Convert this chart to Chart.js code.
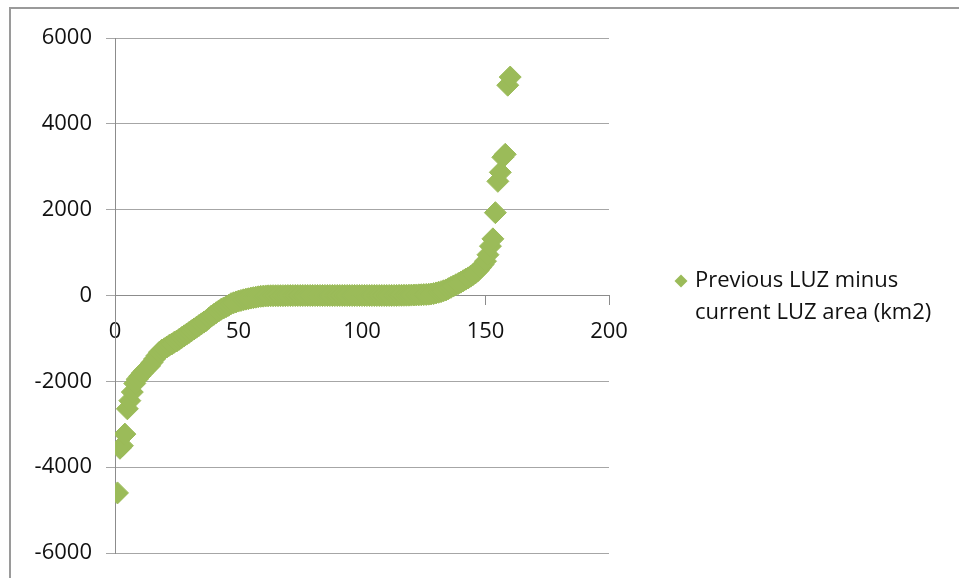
<!DOCTYPE html>
<html>
<head>
<meta charset="utf-8">
<script src="https://cdn.jsdelivr.net/npm/chart.js@4/dist/chart.umd.min.js"></script>
<style>
  html, body { margin: 0; padding: 0; background: #ffffff; }
  #wrap { width: 959px; height: 578px; position: relative; }
</style>
</head>
<body>
<div id="wrap"><canvas id="c" width="959" height="578"></canvas></div>
<script>
// Series name shown in the legend
const seriesLabel = 'Previous LUZ minus current LUZ area (km2)';

// Change in LUZ area (km2), sorted ascending; the x value of each point is its rank (1, 2, 3 ...)
const areaDiff = [
  -4600, -3560, -3500, -3230, -2640, -2450, -2250, -2050, -1950, -1880,
  -1810, -1750, -1690, -1640, -1560, -1480, -1400, -1320, -1270, -1240,
  -1200, -1160, -1130, -1090, -1060, -1020,  -980,  -940,  -900,  -860,
   -820,  -780,  -740,  -700,  -660,  -620,  -580,  -530,  -480,  -440,
   -400,  -360,  -320,  -290,  -260,  -230,  -190,  -170,  -150,  -130,
   -115,  -100,   -85,   -75,   -60,   -50,   -40,   -30,   -20,   -15,
    -10,    -8,    -6,    -5,    -5,    -4,    -4,    -3,    -3,    -2,
     -2,    -2,    -1,    -1,    -1,     0,     0,     0,     0,     0,
      0,     0,     0,     0,     0,     0,     0,     0,     0,     0,
      0,     0,     0,     0,     0,     0,     0,     0,     0,     0,
      0,     0,     0,     0,     0,     0,     0,     0,     0,     0,
      1,     1,     2,     2,     3,     4,     5,     6,     7,     9,
     11,    13,    15,    18,    21,    25,    30,    35,    45,    60,
     75,    90,   110,   130,   160,   190,   220,   250,   280,   310,
    345,   380,   410,   450,   490,   530,   580,   650,   720,   800,
    950,  1150,  1320,  1930,  2660,  2870,  3220,  3290,  4900,  5090
];

// Axis ranges and tick spacing
const xRange = [0, 200];
const xStep = 50;
const yRange = [-6000, 6000];
const yStep = 2000;

const points = areaDiff.map((v, i) => ({ x: i + 1, y: v }));

const GREEN = '#9BBB59';
const GRID = '#a6a6a6';
const AXIS = '#8c8c8c';
const TEXT = '#111111';
const FONT = "'Open Sans', 'Noto Sans', sans-serif";

Chart.defaults.font.family = FONT;
Chart.defaults.font.size = 22;
Chart.defaults.color = TEXT;

// Thin frame along the top and left of the chart
const framePlugin = {
  id: 'frame',
  beforeDraw(chart) {
    const ctx = chart.ctx;
    ctx.save();
    ctx.strokeStyle = '#9a9a9a';
    ctx.lineWidth = 2;
    ctx.beginPath();
    ctx.moveTo(10, chart.height + 2);
    ctx.lineTo(10, 8);
    ctx.lineTo(chart.width + 2, 8);
    ctx.stroke();
    ctx.restore();
  }
};

// Legend on the right with a diamond marker and wrapped text
const sideLegend = {
  id: 'sideLegend',
  afterDraw(chart) {
    const ctx = chart.ctx;
    const ds = chart.data.datasets[0];
    const mx = 681, my = 281, r = 6.5;
    ctx.save();
    ctx.fillStyle = ds.backgroundColor;
    ctx.beginPath();
    ctx.moveTo(mx - r, my);
    ctx.lineTo(mx, my - r);
    ctx.lineTo(mx + r, my);
    ctx.lineTo(mx, my + r);
    ctx.closePath();
    ctx.fill();

    ctx.font = '22px ' + FONT;
    ctx.fillStyle = TEXT;
    ctx.textAlign = 'left';
    ctx.textBaseline = 'middle';
    const maxW = 255;
    const words = ds.label.split(' ');
    const lines = [];
    let cur = '';
    words.forEach(w => {
      const test = cur ? cur + ' ' + w : w;
      if (ctx.measureText(test).width > maxW && cur) {
        lines.push(cur);
        cur = w;
      } else {
        cur = test;
      }
    });
    if (cur) lines.push(cur);
    lines.forEach((ln, i) => ctx.fillText(ln, 695, my + i * 32));
    ctx.restore();
  }
};

new Chart(document.getElementById('c'), {
  type: 'scatter',
  data: {
    datasets: [{
      label: seriesLabel,
      data: points,
      pointStyle: 'rectRot',
      pointRadius: 11,
      pointHoverRadius: 11,
      backgroundColor: GREEN,
      borderColor: GREEN,
      borderWidth: 1
    }]
  },
  options: {
    responsive: false,
    animation: false,
    events: [],
    layout: { padding: { left: 0, right: 350, top: 38, bottom: 25 } },
    plugins: {
      legend: { display: false },
      tooltip: { enabled: false }
    },
    scales: {
      x: {
        type: 'linear',
        position: { y: 0 },
        min: xRange[0],
        max: xRange[1],
        ticks: { stepSize: xStep, padding: 14, color: TEXT, maxRotation: 0, callback: v => String(v) },
        grid: {
          drawOnChartArea: false,
          drawTicks: true,
          tickLength: 9,
          color: AXIS
        },
        border: { color: AXIS, width: 1 }
      },
      y: {
        type: 'linear',
        min: yRange[0],
        max: yRange[1],
        ticks: { stepSize: yStep, padding: 14, color: TEXT, callback: v => String(v) },
        grid: {
          drawOnChartArea: true,
          drawTicks: true,
          tickLength: 9,
          color: GRID
        },
        border: { color: AXIS, width: 1 },
        afterFit(scale) {
          scale.width = 115;
          scale.paddingTop = 0;
          scale.paddingBottom = 0;
        }
      }
    }
  },
  plugins: [framePlugin, sideLegend]
});
</script>
</body>
</html>
